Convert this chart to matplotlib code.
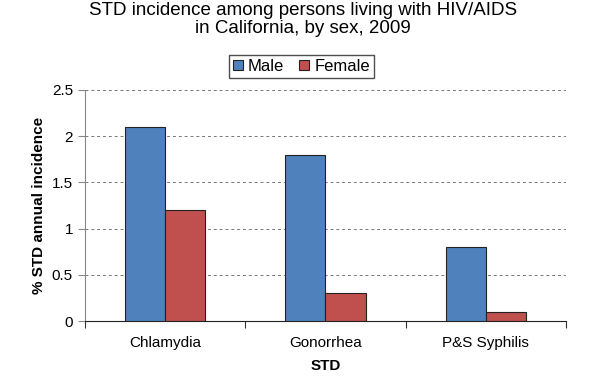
import numpy as np
import matplotlib.pyplot as plt

plt.rcParams['font.family'] = ['Liberation Sans', 'DejaVu Sans']

categories = ['Chlamydia', 'Gonorrhea', 'P&S Syphilis']
male = [2.1, 1.8, 0.8]
female = [1.2, 0.3, 0.1]

fig = plt.figure(figsize=(6.1, 3.76), dpi=100)
ax = fig.add_axes([0.139, 0.146, 0.789, 0.615])

x = np.arange(len(categories))
w = 0.25
ax.bar(x - w / 2, male, w, color='#4F81BD', edgecolor='#222222', linewidth=0.8, label='Male', zorder=3)
ax.bar(x + w / 2, female, w, color='#C0504D', edgecolor='#222222', linewidth=0.8, label='Female', zorder=3)

ax.set_xlim(-0.5, 2.5)
ax.set_ylim(0, 2.5)
ax.set_yticks([0, 0.5, 1, 1.5, 2, 2.5])
ax.set_yticklabels(['0', '0.5', '1', '1.5', '2', '2.5'], fontsize=11)
ax.set_xticks([-0.5, 0.5, 1.5, 2.5])
ax.set_xticklabels([])
ax.set_xticks(x, minor=True)
ax.set_xticklabels(categories, minor=True, fontsize=11)
ax.tick_params(axis='x', which='minor', length=0, pad=11)
ax.tick_params(axis='x', which='major', length=5, color='#333333')
ax.tick_params(axis='y', length=5, color='#888888')
ax.grid(axis='y', linestyle=(0, (3, 3)), color='#777777', linewidth=0.7, zorder=0)

for s in ['top', 'right']:
    ax.spines[s].set_visible(False)
ax.spines['left'].set_color('#888888')
ax.spines['bottom'].set_color('#222222')

ax.set_ylabel('% STD annual incidence', fontsize=11, fontweight='bold')
ax.set_xlabel('STD', fontsize=11, fontweight='bold', labelpad=6)

fig.text(0.497, 0.995, 'STD incidence among persons living with HIV/AIDS\nin California, by sex, 2009',
         ha='center', va='top', fontsize=13.5, linespacing=1.12)

fig.legend(loc='center', bbox_to_anchor=(0.494, 0.823), ncol=2, fontsize=12, frameon=True,
           fancybox=False, edgecolor='#222222', handlelength=0.6, handleheight=0.6,
           handletextpad=0.3, columnspacing=0.9, borderpad=0.25)

fig.savefig('out.png', dpi=100)
